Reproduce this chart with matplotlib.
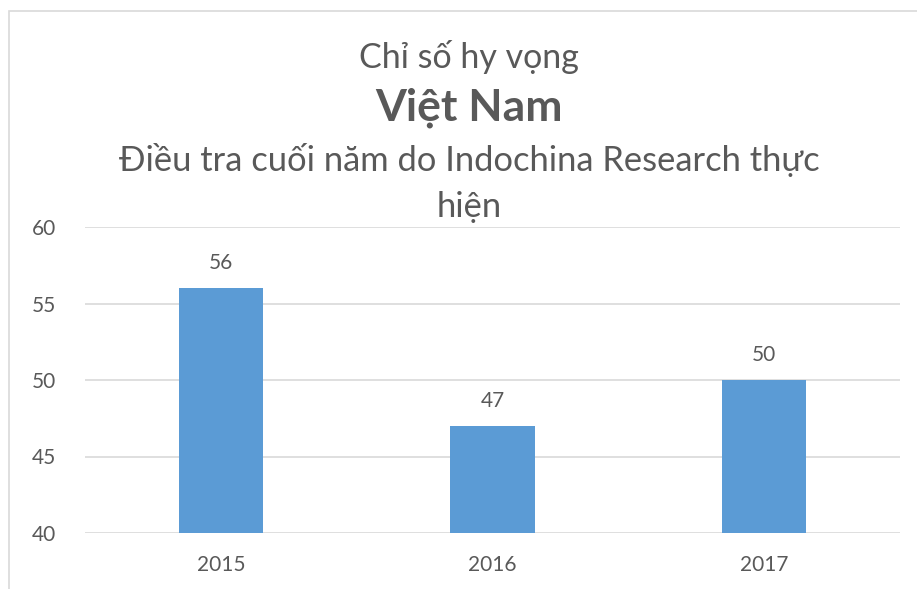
import matplotlib
matplotlib.use("Agg")
import matplotlib.pyplot as plt
from matplotlib.patches import Rectangle

categories = ["2015", "2016", "2017"]
values = [56, 47, 50]
yticks = [40, 45, 50, 55, 60]
title1 = "Chỉ số hy vọng"
title2 = "Việt Nam"
title3a = "Điều tra cuối năm do Indochina Research thực"
title3b = "hiện"

plt.rcParams['font.family'] = ['Lato', 'DejaVu Sans']
TXT = "#595959"

fig = plt.figure(figsize=(9.17, 5.89), dpi=100)
W, H = 917, 589
ax = fig.add_axes([85 / W, 1 - 533 / H, (900 - 85) / W, (533 - 227) / H])

x = list(range(len(categories)))
ax.bar(x, values, width=0.31, color="#5B9BD5", zorder=3)
ax.set_xlim(-0.5, len(categories) - 0.5)
ax.set_ylim(40, 60)
ax.set_yticks(yticks)
ax.set_xticks(x)
ax.set_xticklabels(categories)
ax.grid(axis="y", color="#D9D9D9", linewidth=1.2, zorder=0)
for s in ax.spines.values():
    s.set_visible(False)
ax.tick_params(length=0, labelsize=15, colors=TXT)
ax.tick_params(axis="x", pad=16)
ax.tick_params(axis="y", pad=21)

for xi, v in zip(x, values):
    ax.annotate(str(v), (xi, v), xytext=(0, 18), textcoords="offset points",
                ha="center", va="center", fontsize=15, color=TXT)

fig.text(469 / W, 1 - 57 / H, title1, ha="center", va="center", fontsize=24.5, color=TXT)
fig.text(469 / W, 1 - 108 / H, title2, ha="center", va="center", fontsize=32,
         fontweight="bold", color=TXT)
fig.text(469 / W, 1 - 160 / H, title3a, ha="center", va="center", fontsize=24.8, color=TXT)
fig.text(469 / W, 1 - 207 / H, title3b, ha="center", va="center", fontsize=24.8, color=TXT)

fig.patches.append(Rectangle((8.5 / W, -0.1), 1.2, 1 - 10.5 / H + 0.1,
                             transform=fig.transFigure, fill=False,
                             edgecolor="#D9D9D9", linewidth=1.2))

fig.savefig("out.png", dpi=100)
